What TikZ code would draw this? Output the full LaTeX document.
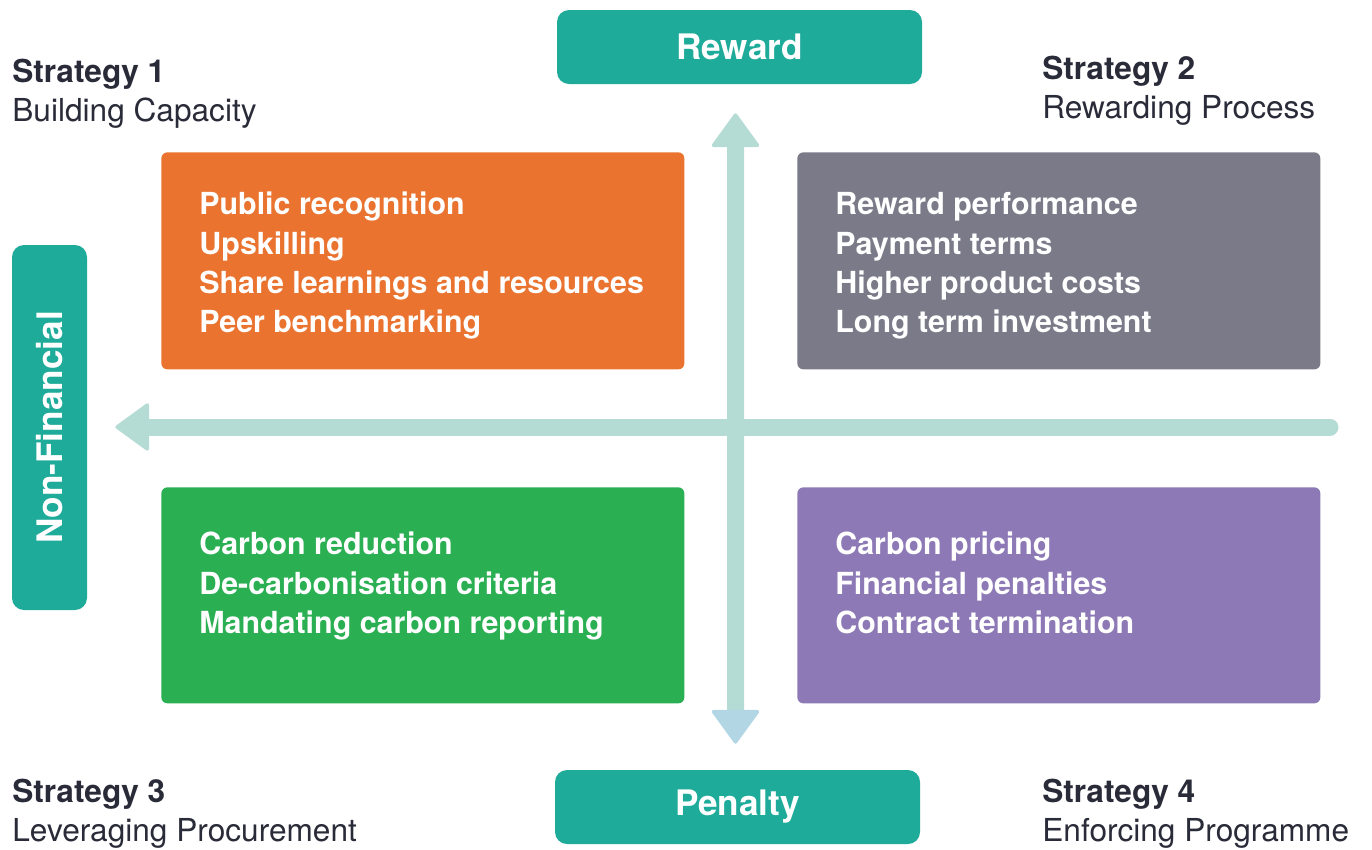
\documentclass[tikz,border=0pt]{standalone}
\usepackage{fontspec}
\setmainfont{TeX Gyre Heros}
\usepackage{tikz}
\usetikzlibrary{positioning, calc, arrows.meta}

\definecolor{teal}{HTML}{1FAB9A}
\definecolor{shaft}{HTML}{B5DBD5}
\definecolor{tipblue}{HTML}{B2D6E4}
\definecolor{orangebox}{HTML}{E9732F}
\definecolor{greybox}{HTML}{7A7A88}
\definecolor{greenbox}{HTML}{2AAF53}
\definecolor{purplebox}{HTML}{8C79B5}
\definecolor{ink}{HTML}{2A2B38}

\tikzset{
  axislabel/.style = {fill=teal, rounded corners=0.24cm, text=white, inner sep=0pt,
    font=\fontsize{20}{24}\selectfont\bfseries},
  quadrant/.style = {rounded corners=0.12cm, inner sep=0pt, anchor=north west,
    minimum width=523*0.02cm, minimum height=217*0.02cm},
  quadtext/.style = {anchor=north west, inner sep=0pt, text=white,
    font=\fontsize{17.3}{22.4}\selectfont\bfseries},
  strategy/.style = {anchor=north west, inner sep=0pt, text=ink,
    font=\fontsize{18}{22.2}\selectfont},
  axis/.style = {shaft, line width=0.34cm, line cap=round}
}

\begin{document}
\begin{tikzpicture}[x=0.02cm, y=-0.02cm]
  \useasboundingbox (0,0) rectangle (1372,849);

  % axis ends
  \node[axislabel, minimum width=365*0.02cm, minimum height=74*0.02cm] (reward) at (739.5,47) {Reward};
  \node[axislabel, minimum width=365*0.02cm, minimum height=74*0.02cm] (penalty) at (737.5,807) {Penalty};
  \node[axislabel, minimum width=365*0.02cm, minimum height=75*0.02cm, rotate=90] (nonfin) at (49.5,427.5) {Non-Financial};
  \coordinate (rightend) at (1330,427);

  % the four strategy boxes
  \node[quadrant, fill=orangebox] (capacity) at (161,152) {};
  \node[quadrant, fill=greybox] (process) at (797,152) {};
  \node[quadrant, fill=greenbox, minimum height=216*0.02cm] (procurement) at (161,487) {};
  \node[quadrant, fill=purplebox, minimum height=216*0.02cm] (programme) at (797,487) {};

  % axes
  \draw[axis, -{Triangle[width=1cm, length=0.7cm, line width=2pt, round]}, shorten >=0.56cm]
    (rightend) -- (nonfin.south |- rightend);
  \draw[axis, {Triangle[width=1cm, length=0.7cm, line width=2pt, round, color=tipblue]}-{Triangle[width=1cm, length=0.7cm, line width=2pt, round]},
    shorten <=0.52cm, shorten >=0.58cm]
    ([xshift=-0.04cm]penalty.north) -- ([xshift=-0.08cm]reward.south);

  % box contents
  \node[quadtext] (capacity-txt) at (199,187) {\begin{tabular}{@{}l@{}}
      Public recognition \\
      Upskilling \\
      Share learnings and resources \\
      Peer benchmarking
    \end{tabular}};
  \node[quadtext] (process-txt) at (835,187) {\begin{tabular}{@{}l@{}}
      Reward performance \\
      Payment terms \\
      Higher product costs \\
      Long term investment
    \end{tabular}};
  \node[quadtext] (procurement-txt) at (199,527) {\begin{tabular}{@{}l@{}}
      Carbon reduction \\
      De-carbonisation criteria \\
      Mandating carbon reporting
    \end{tabular}};
  \node[quadtext] (programme-txt) at (835,527) {\begin{tabular}{@{}l@{}}
      Carbon pricing \\
      Financial penalties \\
      Contract termination
    \end{tabular}};

  % strategy headings
  \node[strategy] (strat1) at (12,55) {\begin{tabular}{@{}l@{}}
      \textbf{Strategy 1} \\ Building Capacity
    \end{tabular}};
  \node[strategy] (strat2) at (1042,52) {\begin{tabular}{@{}l@{}}
      \textbf{Strategy 2} \\ Rewarding Process
    \end{tabular}};
  \node[strategy] (strat3) at (12,775) {\begin{tabular}{@{}l@{}}
      \textbf{Strategy 3} \\ Leveraging Procurement
    \end{tabular}};
  \node[strategy] (strat4) at (1042,775) {\begin{tabular}{@{}l@{}}
      \textbf{Strategy 4} \\ Enforcing Programme
    \end{tabular}};
\end{tikzpicture}
\end{document}
